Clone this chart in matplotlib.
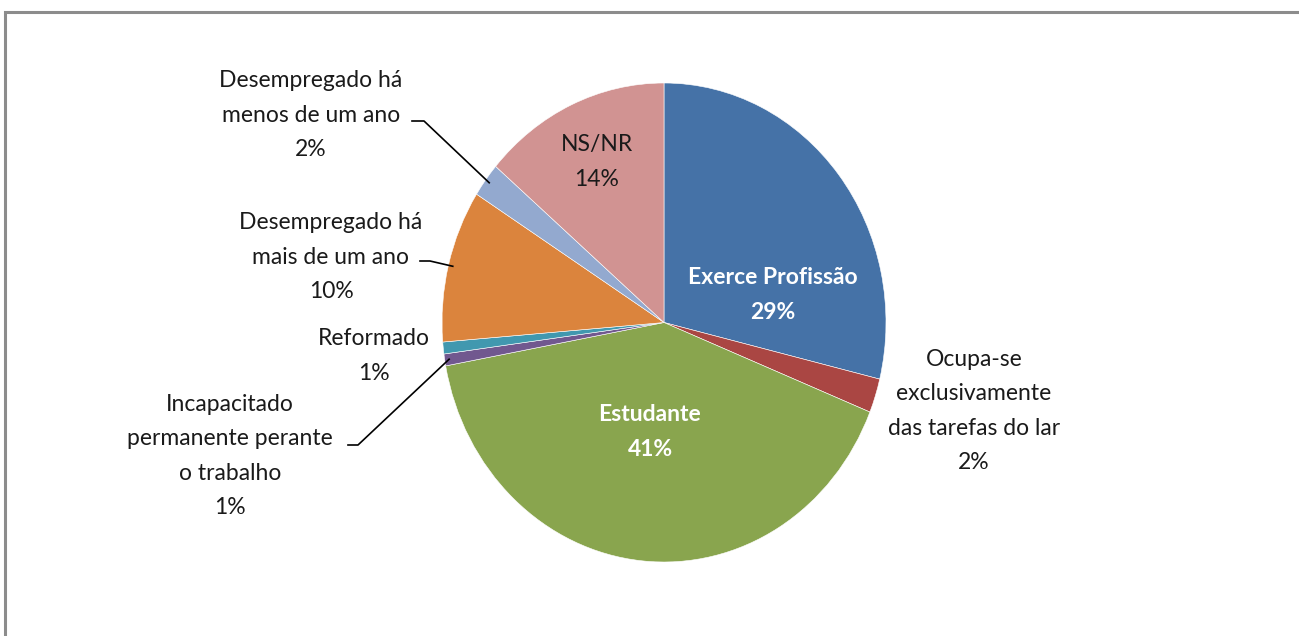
import matplotlib
matplotlib.use('Agg')
import matplotlib.pyplot as plt
import numpy as np
from matplotlib.patches import Rectangle

plt.rcParams['font.family'] = ['Lato', 'DejaVu Sans']

# situação profissional
labels = ['Exerce Profissão', 'Ocupa-se\nexclusivamente\ndas tarefas do lar', 'Estudante',
          'Incapacitado\npermanente perante\no trabalho', 'Reformado',
          'Desempregado há\nmais de um ano', 'Desempregado há\nmenos de um ano', 'NS/NR']
values = [28.8, 2.3, 41.0, 0.8, 0.8, 10.3, 2.3, 13.7]
pct_text = ['29%', '2%', '41%', '1%', '1%', '10%', '2%', '14%']
colors = ['#4572A7', '#AA4643', '#89A54E', '#71588F', '#4198AF', '#DB843D', '#93A9CF', '#D19392']

W, H = 1299, 636
fig = plt.figure(figsize=(W / 100, H / 100), dpi=100)

# pie box in pixels (slightly taller than wide, like the original)
cx, cy, rx, ry = 664, 322.5, 222, 239.5
ax = fig.add_axes([(cx - rx) / W, (H - cy - ry) / H, 2 * rx / W, 2 * ry / H])

wedges, _ = ax.pie(values, colors=colors, startangle=90, counterclock=False,
                   wedgeprops=dict(edgecolor='white', linewidth=0.4))
ax.set_aspect('auto')
ax.set_xlim(-1, 1)
ax.set_ylim(-1, 1)
ax.axis('off')


def px(x, y):
    # image pixel -> data coords
    return (x - cx) / rx, (cy - y) / ry


def edge(i, r=1.0):
    w = wedges[i]
    a = np.deg2rad((w.theta1 + w.theta2) / 2)
    return r * np.cos(a), r * np.sin(a)


fs = 16.5
ls = 1.8

# inside labels
inside = {0: (773, 295, 'white', 'bold'), 2: (650, 432, 'white', 'bold'), 7: (597, 162, '#1a1a1a', 'normal')}
for i, (x, y, c, wgt) in inside.items():
    tx, ty = px(x, y)
    ax.text(tx, ty, labels[i] + '\n' + pct_text[i], ha='center', va='center',
            color=c, fontsize=fs, fontweight=wgt, linespacing=ls)

# outside labels
outside = {1: (974, 411), 3: (230, 456), 4: (374, 356), 5: (331, 257), 6: (311, 115)}
for i, (x, y) in outside.items():
    tx, ty = px(x, y)
    ax.text(tx, ty, labels[i] + '\n' + pct_text[i], ha='center', va='center',
            color='#1a1a1a', fontsize=fs, linespacing=ls, clip_on=False)

# leader lines: text end -> elbow -> slice edge
leaders = {6: ((412, 121), (424, 121)), 5: ((420, 261), (430, 261)), 3: ((348, 445), (358, 445))}
for i, (p0, p1) in leaders.items():
    a = px(*p0)
    b = px(*p1)
    e = edge(i, 0.98)
    ax.plot([a[0], b[0], e[0]], [a[1], b[1], e[1]], color='black', lw=1.2, clip_on=False)

# chart frame (only top and left visible)
fig.add_artist(Rectangle((4.5 / W, -0.2), 1.5, (H - 12) / H + 0.2, transform=fig.transFigure,
                         fill=False, edgecolor='#8c8c8c', linewidth=2.2))

fig.savefig('out.png', dpi=100)
